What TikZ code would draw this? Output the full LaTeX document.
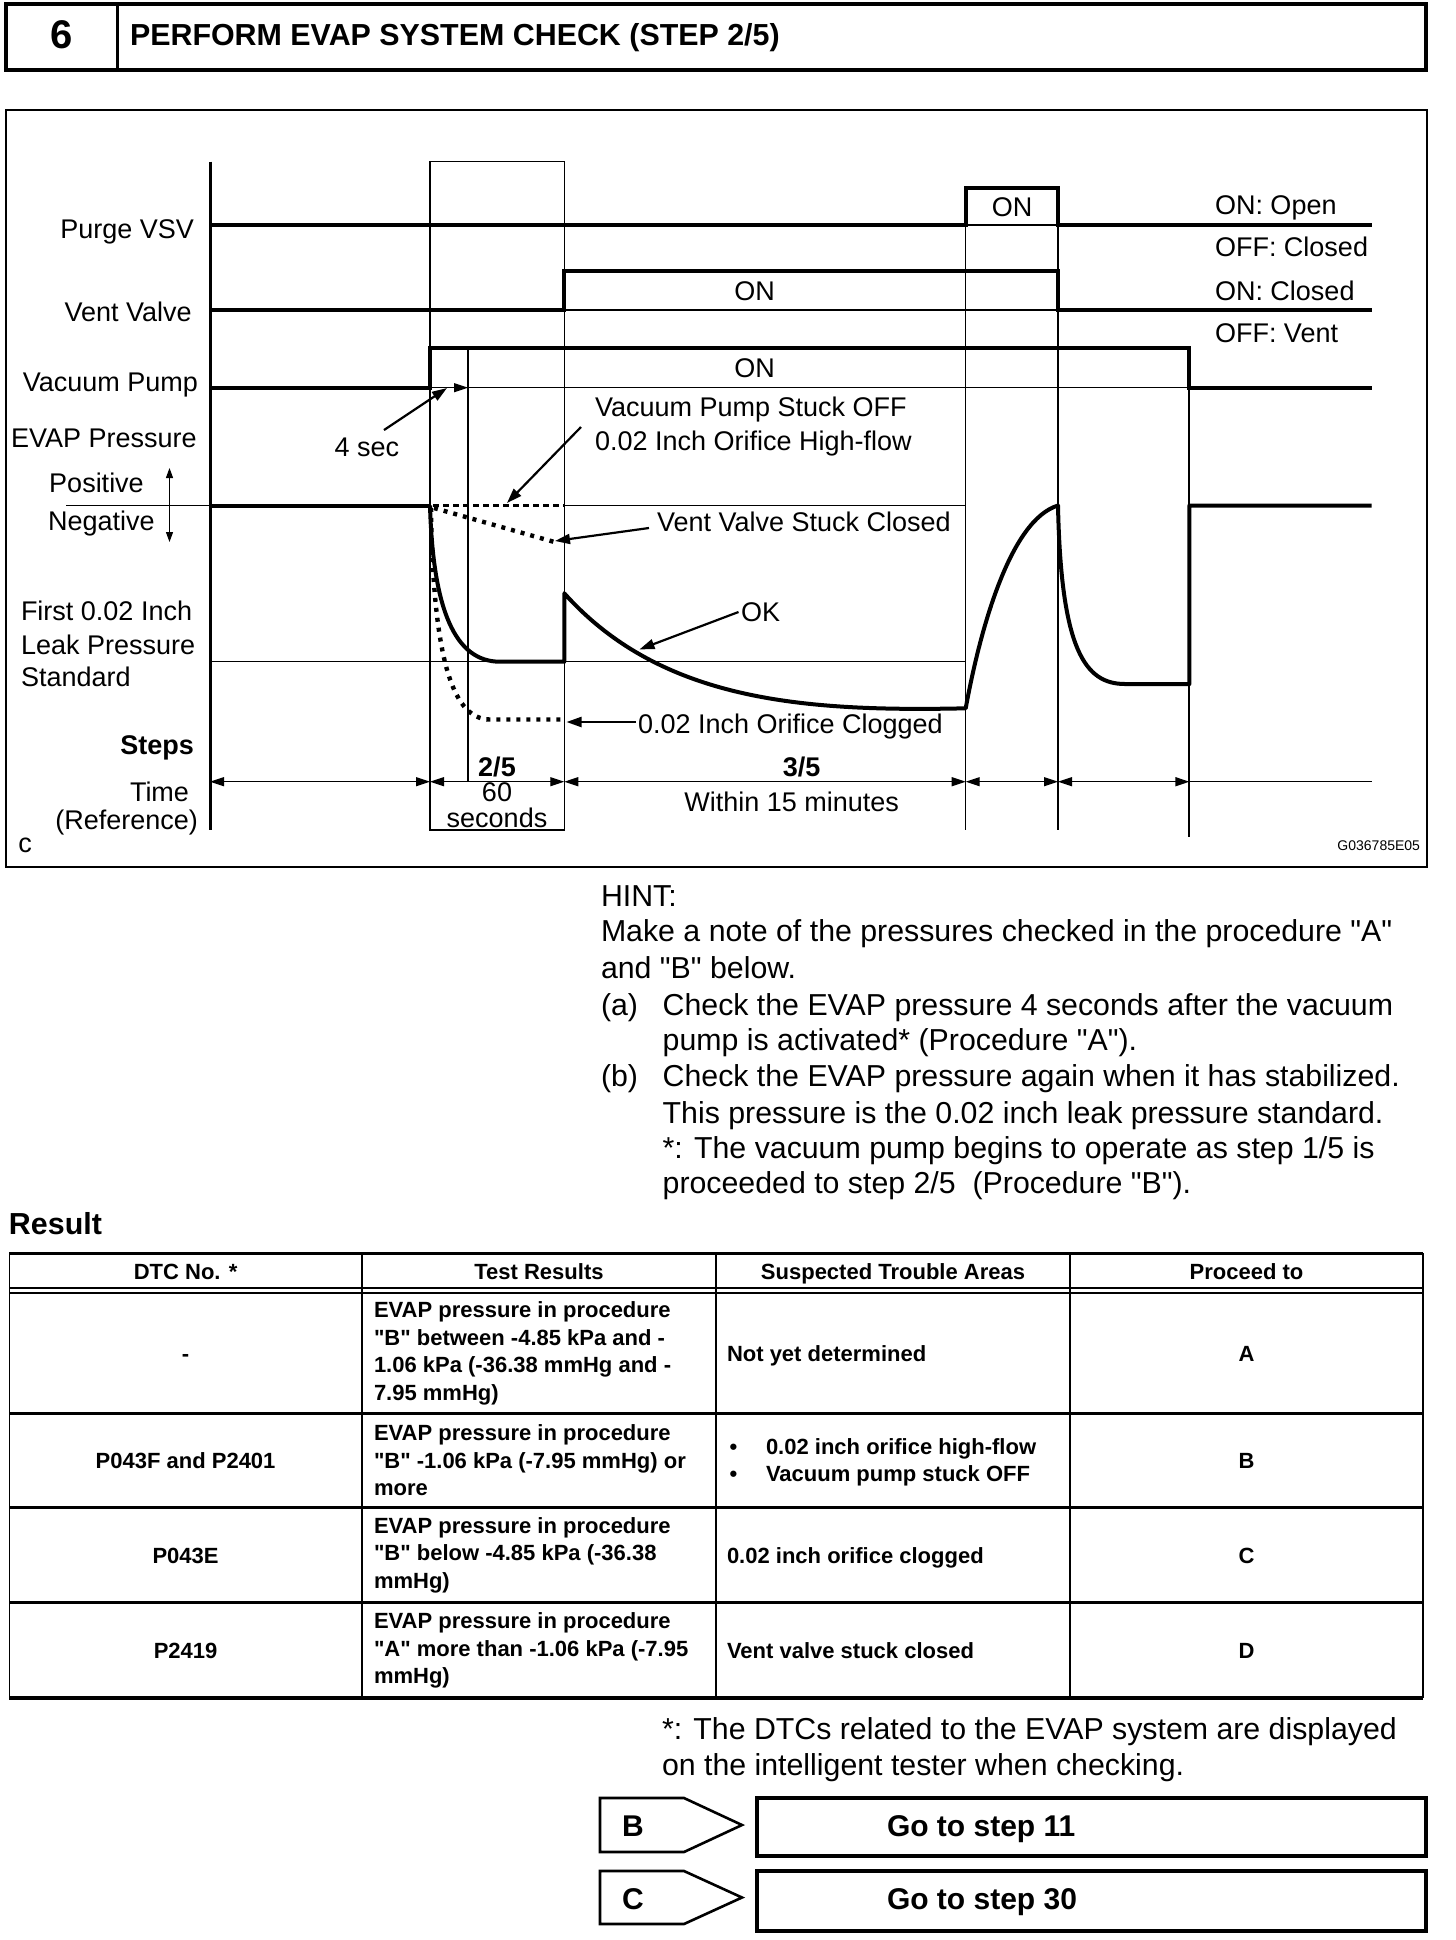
\documentclass[tikz,border=0pt]{standalone}
\usepackage{fontspec}
\setmainfont{Liberation Sans}[Ligatures=TeXOff]
\usetikzlibrary{arrows.meta}
\begin{document}
\begin{tikzpicture}[x=0.5pt,y=-0.5pt,
  every node/.style={inner sep=0pt, outer sep=0pt},
  lbl/.style={font=\fontsize{13.5}{16}\selectfont},
  lblb/.style={font=\bfseries\fontsize{13.5}{16}\selectfont},
  hint/.style={font=\fontsize{15.15}{18}\selectfont, anchor=base west},
  tbl/.style={font=\bfseries\fontsize{11}{13.75}\selectfont, align=left},
  tblc/.style={font=\bfseries\fontsize{11}{13.75}\selectfont, align=center},
  bigb/.style={font=\bfseries\fontsize{15}{18}\selectfont},
  thk/.style={line width=2pt},
  thn/.style={line width=0.6pt},
  dotl/.style={line width=2.2pt, dash pattern=on 2pt off 3pt},
  dashl/.style={line width=1.1pt, dash pattern=on 3pt off 2pt},
  tarr/.style={line width=0.6pt, {Triangle[length=7pt,width=4.5pt]}-{Triangle[length=7pt,width=4.5pt]}},
  ldr/.style={line width=1.1pt, -{Triangle[length=7.5pt,width=5pt]}},
]
\useasboundingbox (0,0) rectangle (1456,1940);

% ---------- header ----------
\draw[line width=1.8pt] (6,4) rectangle (1426,70);
\draw[line width=1.8pt] (117.5,4) -- (117.5,70);
\node[font=\bfseries\fontsize{20}{24}\selectfont, anchor=base] (num) at (62,48) {6};
\node[font=\bfseries\fontsize{15.2}{18}\selectfont, anchor=base west] (title) at (130,45) {PERFORM EVAP SYSTEM CHECK (STEP 2/5)};

% ---------- diagram frame ----------
\draw[line width=1pt] (5.6,110) rectangle (1427,866.7);

% grid lines
\draw[thn] (430,161.7) rectangle (564.3,830);
\draw[thn] (468,348.3) -- (468,781.7);
\draw[thn] (965.7,187.7) -- (965.7,830);
\draw[thn] (1058,187.7) -- (1058,830);
\draw[line width=1pt] (1189.4,348.3) -- (1189.4,836.7);
\draw[line width=1.5pt] (210,161.7) -- (210,830);

% Purge VSV
\draw[thk] (210,225) -- (965.7,225) -- (965.7,187.7) -- (1058,187.7) -- (1058,225) -- (1371.6,225);
\draw[thn] (965.7,225) -- (1058,225);
% Vent valve
\draw[thk] (210,310) -- (564.3,310) -- (564.3,270.7) -- (1058,270.7) -- (1058,310) -- (1371.6,310);
\draw[thn] (564.3,310) -- (1058,310);
% Vacuum pump
\draw[thk] (210,387.7) -- (430,387.7) -- (430,348.3) -- (1189.4,348.3) -- (1189.4,387.7) -- (1371.6,387.7);
\draw[thn] (430,387.7) -- (1189.4,387.7);

% EVAP zero level
\draw[thn] (66,505.5) -- (210,505.5);
\draw[thk] (210,505.5) -- (430,505.5);
\draw[thn] (564.3,505.5) -- (965.7,505.5);
\draw[dashl] (433,505.5) -- (564.3,505.5);
% first leak standard
\draw[thn] (210,661.7) -- (965.7,661.7);

% OK curve
\draw[thk, line join=round] (430,505.5) .. controls (433,610) and (455,661.7) .. (500,661.7) -- (564.3,661.7) -- (564.3,593.3)
  .. controls (660,700) and (800,712) .. (965.7,708.3)
  .. controls (980,630) and (1010,520) .. (1058,505.5)
  .. controls (1061,650) and (1085,684) .. (1125,684) -- (1189.4,684) -- (1189.4,505.5) -- (1371.6,505.5);
% clogged
\draw[dotl] (431,508) .. controls (433,650) and (450,719.5) .. (490,719.5) -- (564.3,719.5);
% vent stuck closed
\draw[dotl] (434,508) -- (558,543);

% time line
\draw[tarr] (210,781.7) -- (430,781.7);
\draw[tarr] (430,781.7) -- (564.3,781.7);
\draw[tarr] (564.3,781.7) -- (965.7,781.7);
\draw[tarr] (965.7,781.7) -- (1058,781.7);
\draw[tarr] (1058,781.7) -- (1189.4,781.7);
\draw[thn] (1189.4,781.7) -- (1371.6,781.7);

% positive / negative arrow
\draw[line width=0.6pt, {Triangle[length=5pt,width=3.5pt]}-{Triangle[length=5pt,width=3.5pt]}] (169.5,468) -- (169.5,542);

% ---------- left labels ----------
\node[lbl, anchor=base east] (lpurge) at (194,238.5) {Purge VSV};
\node[lbl, anchor=base east] (lvent) at (191.7,321.2) {Vent Valve};
\node[lbl, anchor=base east] (lpump) at (198,391.5) {Vacuum Pump};
\node[lbl, anchor=base east] (levap) at (196.7,447.5) {EVAP Pressure};
\node[lbl, anchor=base] (lpos) at (96.5,492) {Positive};
\node[lbl, anchor=base] (lneg) at (101.4,530.3) {Negative};
\node[lbl, anchor=base west] (lfirst) at (21,620.5) {First 0.02 Inch};
\node[lbl, anchor=base west] (lleak) at (21,654) {Leak Pressure};
\node[lbl, anchor=base west] (lstd) at (21,686) {Standard};
\node[lblb, anchor=base east] (lsteps) at (194,754.2) {Steps};
\node[lbl, anchor=base east] (ltime) at (189,801.2) {Time};
\node[lbl, anchor=base east] (lref) at (198,829.5) {(Reference)};
\node[lbl, anchor=base] (lc) at (25,852) {c};
\node[font=\fontsize{7}{8}\selectfont, anchor=base east] (lcode) at (1420,850) {G036785E05};

% right labels
\node[lbl, anchor=base west] (ron1) at (1215,214.5) {ON: Open};
\node[lbl, anchor=base west] (roff1) at (1215,256.5) {OFF: Closed};
\node[lbl, anchor=base west] (ron2) at (1215,300.2) {ON: Closed};
\node[lbl, anchor=base west] (roff2) at (1215,342.3) {OFF: Vent};

% ON labels
\node[lbl, anchor=base] (onp) at (1012,216) {ON};
\node[lbl, anchor=base] (onv) at (754.6,300.2) {ON};
\node[lbl, anchor=base] (onm) at (754.6,377) {ON};

% steps / times
\node[lblb, anchor=base] (s25) at (497,776.5) {2/5};
\node[lbl, anchor=base] (t60) at (497,801.5) {60};
\node[lbl, anchor=base] (tsec) at (497,827.5) {seconds};
\node[lblb, anchor=base] (s35) at (801.6,776.5) {3/5};
\node[lbl, anchor=base] (t15) at (791.7,811) {Within 15 minutes};

% 4 sec
\node[lbl, anchor=base] (foursec) at (367,456) {4 sec};
\coordinate (fs-from) at (384,430);
\coordinate (fs-tip) at (447,388);
\draw[ldr] (fs-from) -- (fs-tip);
\coordinate (fs2-from) at (449,387.7);
\coordinate (fs2-tip) at (468,387.7);
\draw[line width=0.6pt, -{Triangle[length=7pt,width=4.5pt]}] (fs2-from) -- (fs2-tip);

% annotated curves
\node[lbl, anchor=base west] (vps) at (595,416.5) {Vacuum Pump Stuck OFF};
\node[lbl, anchor=base west] (hif) at (595,450) {0.02 Inch Orifice High-flow};
\coordinate (vps-from) at (581,427);
\coordinate (vps-to) at (507,503);
\draw[ldr] (vps-from) -- (vps-to);

\node[lbl, anchor=base west] (vvs) at (657,531.5) {Vent Valve Stuck Closed};
\coordinate (vvs-from) at (649,528);
\coordinate (vvs-to) at (555,541);
\draw[ldr] (vvs-from) -- (vvs-to);

\node[lbl, anchor=base west] (okl) at (741,621.8) {OK};
\coordinate (ok-from) at (738.5,612);
\coordinate (ok-to) at (639.5,649.4);
\draw[ldr] (ok-from) -- (ok-to);

\node[lbl, anchor=base west] (clg) at (638,733) {0.02 Inch Orifice Clogged};
\coordinate (clg-from) at (636,722);
\coordinate (clg-to) at (566.5,722);
\draw[ldr] (clg-from) -- (clg-to);

% ---------- HINT ----------
\node[hint] (h0) at (601,906.7) {HINT:};
\node[hint] (h1) at (601,941.7) {Make a note of the pressures checked in the procedure "A"};
\node[hint] (h2) at (601,978.3) {and "B" below.};
\node[hint] (h3a) at (601,1015) {(a)};
\node[hint] (h3) at (662.7,1015) {Check the EVAP pressure 4 seconds after the vacuum};
\node[hint] (h4) at (662.7,1050) {pump is activated* (Procedure "A").};
\node[hint] (h5a) at (601,1086.7) {(b)};
\node[hint] (h5) at (662.7,1086.7) {Check the EVAP pressure again when it has stabilized.};
\node[hint] (h6) at (662.7,1123.3) {This pressure is the 0.02 inch leak pressure standard.};
\node[hint] (h7) at (662.7,1158.3) {*: The vacuum pump begins to operate as step 1/5 is};
\node[hint] (h8) at (662.7,1193.3) {proceeded to step 2/5\ \ (Procedure "B").};

% ---------- Result table ----------
\node[font=\bfseries\fontsize{15.2}{18}\selectfont, anchor=base west] (res) at (9,1234) {Result};
\draw[line width=1.5pt] (9.3,1253.3) -- (1423,1253.3);
\draw[line width=1pt] (9.3,1288.3) -- (1423,1288.3);
\draw[line width=1pt] (9.3,1293.3) -- (1423,1293.3);
\draw[line width=1.5pt] (9.3,1413.3) -- (1423,1413.3);
\draw[line width=1.5pt] (9.3,1507.7) -- (1423,1507.7);
\draw[line width=1.5pt] (9.3,1602.7) -- (1423,1602.7);
\draw[line width=2pt] (9.3,1698.3) -- (1423,1698.3);
\foreach \cx in {9.3,362,716,1070,1423} {\draw[line width=0.8pt] (\cx,1253.3) -- (\cx,1698.3);}

\node[tblc, anchor=base] (hd1) at (185.6,1279) {DTC No. *};
\node[tblc, anchor=base] (hd2) at (539,1279) {Test Results};
\node[tblc, anchor=base] (hd3) at (893,1279) {Suspected Trouble Areas};
\node[tblc, anchor=base] (hd4) at (1246.5,1279) {Proceed to};

% row 1
\node[tblc, anchor=base] (r1a) at (185.6,1361.5) {-};
\node[tbl, anchor=west] (r1b) at (374,1353.5) {EVAP pressure in procedure\\"B" between -4.85 kPa and -\\1.06 kPa (-36.38 mmHg and -\\7.95 mmHg)};
\node[tbl, anchor=base west] (r1c) at (727,1361.5) {Not yet determined};
\node[tblc, anchor=base] (r1d) at (1246.5,1361.5) {A};
% row 2
\node[tblc, anchor=base] (r2a) at (185.6,1468.5) {P043F and P2401};
\node[tbl, anchor=west] (r2b) at (374,1460.5) {EVAP pressure in procedure\\"B" -1.06 kPa (-7.95 mmHg) or\\more};
\node[tblc, anchor=base] (r2c1) at (733.5,1454.7) {•};
\node[tbl, anchor=base west] (r2c2) at (766,1454.7) {0.02 inch orifice high-flow};
\node[tblc, anchor=base] (r2c3) at (733.5,1481.3) {•};
\node[tbl, anchor=base west] (r2c4) at (766,1481.3) {Vacuum pump stuck OFF};
\node[tblc, anchor=base] (r2d) at (1246.5,1468.5) {B};
% row 3
\node[tblc, anchor=base] (r3a) at (185.6,1563) {P043E};
\node[tbl, anchor=west] (r3b) at (374,1555) {EVAP pressure in procedure\\"B" below -4.85 kPa (-36.38\\mmHg)};
\node[tbl, anchor=base west] (r3c) at (727,1563) {0.02 inch orifice clogged};
\node[tblc, anchor=base] (r3d) at (1246.5,1563) {C};
% row 4
\node[tblc, anchor=base] (r4a) at (185.6,1658.5) {P2419};
\node[tbl, anchor=west] (r4b) at (374,1650.5) {EVAP pressure in procedure\\"A" more than -1.06 kPa (-7.95\\mmHg)};
\node[tbl, anchor=base west] (r4c) at (727,1658.5) {Vent valve stuck closed};
\node[tblc, anchor=base] (r4d) at (1246.5,1658.5) {D};

% ---------- footnote ----------
\node[hint] (f1) at (662,1739) {*: The DTCs related to the EVAP system are displayed};
\node[hint] (f2) at (662,1775) {on the intelligent tester when checking.};

% ---------- buttons ----------
\draw[line width=1.3pt, line join=miter] (600,1798) -- (684,1798) -- (742,1825) -- (684,1852) -- (600,1852) -- cycle;
\node[bigb, anchor=base west] (btnB) at (622,1836) {B};
\draw[line width=2pt] (757,1798) rectangle (1426,1856);
\node[bigb, anchor=base west] (go11) at (887,1836) {Go to step 11};

\draw[line width=1.3pt, line join=miter] (600,1871) -- (684,1871) -- (742,1897.5) -- (684,1924) -- (600,1924) -- cycle;
\node[bigb, anchor=base west] (btnC) at (622,1909) {C};
\draw[line width=2pt] (757,1871) rectangle (1426,1931);
\node[bigb, anchor=base west] (go30) at (887,1909) {Go to step 30};
\end{tikzpicture}
\end{document}
